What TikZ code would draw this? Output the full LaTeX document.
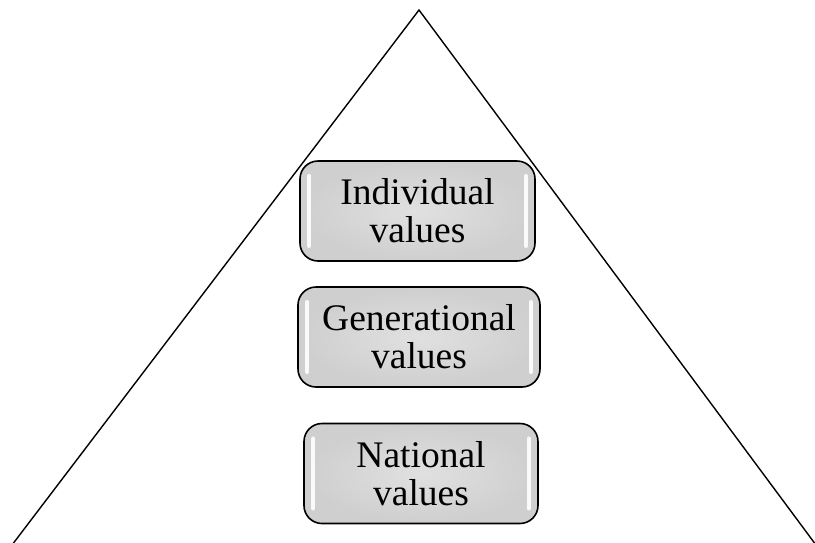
\documentclass[tikz,border=0pt]{standalone}
\usepackage{fontspec}
\setmainfont{Liberation Serif}
\begin{document}
\begin{tikzpicture}[x=1pt,y=-1pt,
  valuebox/.style={draw=black, line width=1.6pt, rounded corners=18pt,
    inner color=gray!24, outer color=gray!38, minimum width=#1, minimum height=100pt,
    align=center, font=\fontsize{37.5}{38}\selectfont, inner sep=0pt},
  shine/.style={draw=white, line width=4.5pt, line cap=round, opacity=0.9}]
\useasboundingbox (0,0) rectangle (815,542);
% pyramid outline
\coordinate (apex) at (419,10);
\coordinate (bl) at (12,545);
\coordinate (br) at (816,545);
\draw[line width=1.4pt] (bl) -- (apex) -- (br);
% value levels
\node[valuebox=235pt] (ind) at (417.5,211) {Individual\\values};
\node[valuebox=242pt] (gen) at (419,337) {Generational\\values};
\node[valuebox=234pt] (nat) at (421,473.5) {National\\values};
% highlights on the box sides
\foreach \b in {ind,gen,nat}{
  \draw[shine] ([xshift=10pt,yshift=-16pt]\b.north west) -- ([xshift=10pt,yshift=16pt]\b.south west);
  \draw[shine] ([xshift=-10pt,yshift=-16pt]\b.north east) -- ([xshift=-10pt,yshift=16pt]\b.south east);
}
\end{tikzpicture}
\end{document}
